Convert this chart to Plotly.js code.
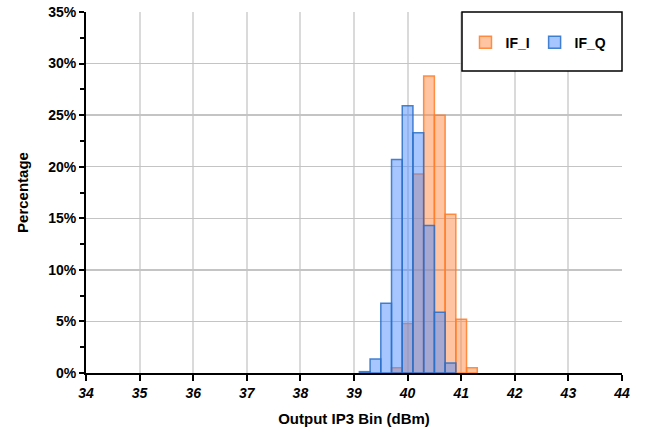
<!DOCTYPE html>
<html>
<head>
<meta charset="utf-8">
<script src="https://cdn.plot.ly/plotly-3.0.1.min.js"></script>
<style>html,body{margin:0;padding:0;background:#fff}#chart{width:654px;height:431px}</style>
</head>
<body>
<div id="chart"></div>
<script>
// Bin centers (dBm) and percentages
const binsI = [39.8, 40.0, 40.2, 40.4, 40.6, 40.8, 41.0, 41.2];
const pctI  = [0.5, 4.8, 19.3, 28.8, 25.0, 15.4, 5.2, 0.5];
const binsQ = [39.2, 39.4, 39.6, 39.8, 40.0, 40.2, 40.4, 40.6, 40.8];
const pctQ  = [0.13, 1.35, 6.77, 20.7, 25.9, 23.3, 14.3, 5.9, 0.97];
const seriesNames = ["IF_I", "IF_Q"];
const xTicks = [34, 35, 36, 37, 38, 39, 40, 41, 42, 43, 44];
const yTicks = [0, 5, 10, 15, 20, 25, 30, 35];

const font = "Liberation Sans, Arial, sans-serif";

const traces = [
  {
    type: "bar", name: seriesNames[0], x: binsI, y: pctI, width: 0.2,
    marker: {color: "rgba(255,140,70,0.5)", line: {color: "rgba(255,125,40,0.85)", width: 1.5}},
    hoverinfo: "x+y"
  },
  {
    type: "bar", name: seriesNames[1], x: binsQ, y: pctQ, width: 0.2,
    marker: {color: "rgba(80,140,255,0.5)", line: {color: "rgba(40,110,200,0.85)", width: 1.5}},
    hoverinfo: "x+y"
  }
];

const layout = {
  width: 654, height: 431,
  margin: {l: 86, r: 32, t: 12, b: 58},
  paper_bgcolor: "#fff", plot_bgcolor: "#fff",
  barmode: "overlay",
  font: {family: font, color: "#000"},
  xaxis: {
    range: [34, 44], tickvals: xTicks, ticktext: xTicks.map(String),
    showgrid: true, gridcolor: "#DADADA", gridwidth: 2,
    showline: true, linecolor: "#000", linewidth: 2,
    ticks: "outside", ticklen: 6, tickwidth: 2, tickcolor: "#000",
    tickfont: {family: font, size: 14, weight: "bold", style: "italic"},
    zeroline: false,
    title: {text: "Output IP3 Bin (dBm)", font: {family: font, size: 15, weight: "bold"}, standoff: 14}
  },
  yaxis: {
    range: [0, 35], tickvals: yTicks, ticktext: yTicks.map(v => v + "%"),
    showgrid: true, gridcolor: "#C4C4C4", gridwidth: 1.5,
    showline: true, linecolor: "#000", linewidth: 2,
    ticks: "outside", ticklen: 5, tickwidth: 2, tickcolor: "#000",
    minor: {dtick: 2.5, ticks: "outside", ticklen: 4, tickwidth: 2, tickcolor: "#000", showgrid: false},
    tickfont: {family: font, size: 14, weight: "bold"},
    zeroline: false,
    title: {text: "Percentage", font: {family: font, size: 15, weight: "bold"}, standoff: 16}
  },
  showlegend: true,
  legend: {
    orientation: "h", x: 0.708, xanchor: "left", y: 0.915, yanchor: "middle",
    bgcolor: "rgba(0,0,0,0)", borderwidth: 0,
    font: {family: font, size: 14, weight: "bold"},
    itemwidth: 30, traceorder: "normal"
  },
  shapes: [{
    type: "rect", xref: "paper", yref: "paper",
    x0: (462 - 86) / 536, x1: 1, y0: 1 - 59 / 361, y1: 1,
    line: {color: "#000", width: 1.5}, fillcolor: "#fff", layer: "above"
  }]
};

Plotly.newPlot("chart", traces, layout, {displayModeBar: false, staticPlot: true});
</script>
</body>
</html>
